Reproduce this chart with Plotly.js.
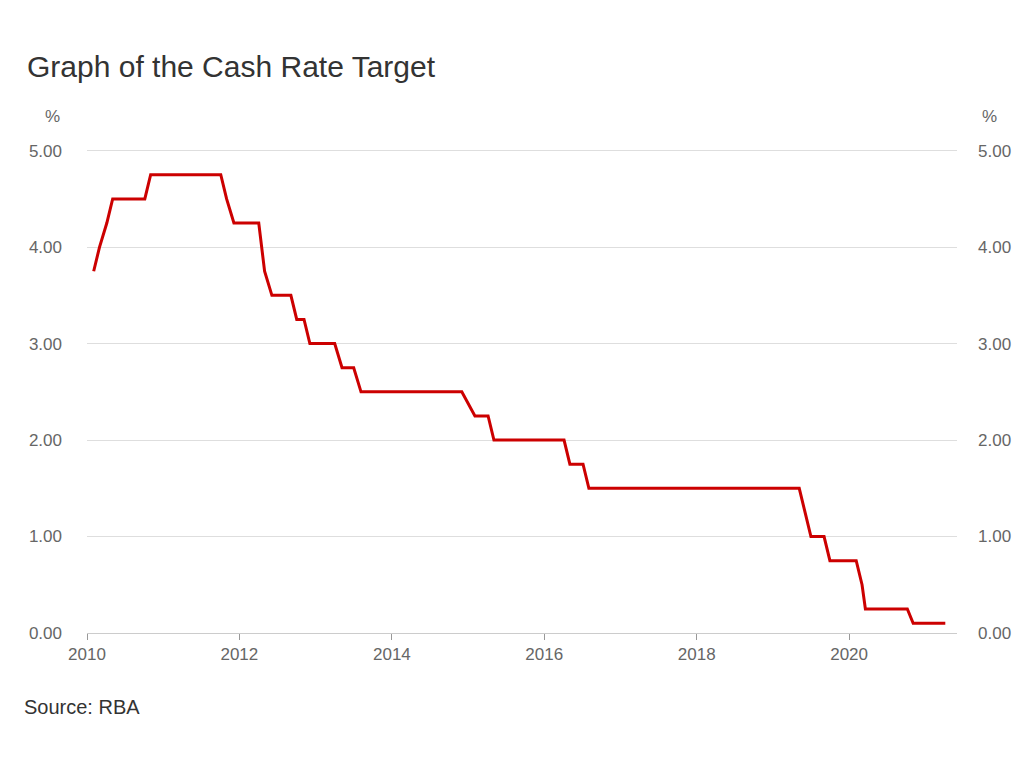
<!DOCTYPE html>
<html>
<head>
<meta charset="utf-8">
<script src="https://cdn.plot.ly/plotly-3.0.1.min.js"></script>
<style>
  html, body { margin: 0; padding: 0; background: #fff; }
  #chart { width: 1024px; height: 768px; }
</style>
</head>
<body>
<div id="chart"></div>
<script>
// RBA Board decision dates (no meeting in January; emergency meeting 19 Mar 2020)
const decisionDates = [
  "2010-02-02","2010-03-02","2010-04-06","2010-05-04","2010-06-01","2010-07-06","2010-08-03","2010-09-07","2010-10-05","2010-11-02","2010-12-07",
  "2011-02-01","2011-03-01","2011-04-05","2011-05-03","2011-06-07","2011-07-05","2011-08-02","2011-09-06","2011-10-04","2011-11-01","2011-12-06",
  "2012-02-07","2012-03-06","2012-04-03","2012-05-01","2012-06-05","2012-07-03","2012-08-07","2012-09-04","2012-10-02","2012-11-06","2012-12-04",
  "2013-02-05","2013-03-05","2013-04-02","2013-05-07","2013-06-04","2013-07-02","2013-08-06","2013-09-03","2013-10-01","2013-11-05","2013-12-03",
  "2014-02-04","2014-03-04","2014-04-01","2014-05-06","2014-06-03","2014-07-01","2014-08-05","2014-09-02","2014-10-07","2014-11-04","2014-12-02",
  "2015-02-03","2015-03-03","2015-04-07","2015-05-05","2015-06-02","2015-07-07","2015-08-04","2015-09-01","2015-10-06","2015-11-03","2015-12-01",
  "2016-02-02","2016-03-01","2016-04-05","2016-05-03","2016-06-07","2016-07-05","2016-08-02","2016-09-06","2016-10-04","2016-11-01","2016-12-06",
  "2017-02-07","2017-03-07","2017-04-04","2017-05-02","2017-06-06","2017-07-04","2017-08-01","2017-09-05","2017-10-03","2017-11-07","2017-12-05",
  "2018-02-06","2018-03-06","2018-04-03","2018-05-01","2018-06-05","2018-07-03","2018-08-07","2018-09-04","2018-10-02","2018-11-06","2018-12-04",
  "2019-02-05","2019-03-05","2019-04-02","2019-05-07","2019-06-04","2019-07-02","2019-08-06","2019-09-03","2019-10-01","2019-11-05","2019-12-03",
  "2020-02-04","2020-03-03","2020-03-19","2020-04-07","2020-05-05","2020-06-02","2020-07-07","2020-08-04","2020-09-01","2020-10-06","2020-11-03","2020-12-01",
  "2021-02-02","2021-03-02","2021-04-06"
];

// Cash rate target (%) after each decision
const cashRate = [
  3.75,4.00,4.25,4.50,4.50,4.50,4.50,4.50,4.50,4.75,4.75,
  4.75,4.75,4.75,4.75,4.75,4.75,4.75,4.75,4.75,4.50,4.25,
  4.25,4.25,4.25,3.75,3.50,3.50,3.50,3.50,3.25,3.25,3.00,
  3.00,3.00,3.00,2.75,2.75,2.75,2.50,2.50,2.50,2.50,2.50,
  2.50,2.50,2.50,2.50,2.50,2.50,2.50,2.50,2.50,2.50,2.50,
  2.25,2.25,2.25,2.00,2.00,2.00,2.00,2.00,2.00,2.00,2.00,
  2.00,2.00,2.00,1.75,1.75,1.75,1.50,1.50,1.50,1.50,1.50,
  1.50,1.50,1.50,1.50,1.50,1.50,1.50,1.50,1.50,1.50,1.50,
  1.50,1.50,1.50,1.50,1.50,1.50,1.50,1.50,1.50,1.50,1.50,
  1.50,1.50,1.50,1.50,1.25,1.00,1.00,1.00,0.75,0.75,0.75,
  0.75,0.50,0.25,0.25,0.25,0.25,0.25,0.25,0.25,0.25,0.10,0.10,
  0.10,0.10,0.10
];

const yTickVals = [0, 1, 2, 3, 4, 5];
const yTickText = ["0.00", "1.00", "2.00", "3.00", "4.00", "5.00"];
const xTickVals = ["2010-01-01","2012-01-01","2014-01-01","2016-01-01","2018-01-01","2020-01-01"];
const xTickText = ["2010","2012","2014","2016","2018","2020"];

const FONT = "Liberation Sans, Arial, sans-serif";

const traces = [
  {
    x: decisionDates,
    y: cashRate,
    type: "scatter",
    mode: "lines",
    line: { color: "#cc0000", width: 3 },
    hoverinfo: "x+y",
    showlegend: false
  },
  {
    // same series on the right-hand axis (invisible) so that axis is drawn
    x: decisionDates,
    y: cashRate,
    type: "scatter",
    mode: "lines",
    yaxis: "y2",
    line: { color: "rgba(0,0,0,0)", width: 0 },
    hoverinfo: "skip",
    showlegend: false
  }
];

const yRange = [0, 5.1];
const TICKSIZE = 17;

const layout = {
  width: 1024,
  height: 768,
  paper_bgcolor: "#ffffff",
  plot_bgcolor: "#ffffff",
  font: { family: FONT, color: "#666666", size: TICKSIZE },
  margin: { l: 87, r: 67, t: 141, b: 135 },
  showlegend: false,
  title: {
    text: "Graph of the Cash Rate Target",
    font: { family: FONT, size: 30, color: "#333333" },
    xref: "container", yref: "container",
    x: 27 / 1024, xanchor: "left",
    y: 1 - 66 / 768, yanchor: "middle"
  },
  xaxis: {
    type: "date",
    range: ["2010-01-01", "2021-06-01"],
    tickmode: "array",
    tickvals: xTickVals,
    ticktext: xTickText,
    showgrid: false,
    zeroline: false,
    showline: true,
    linecolor: "#cccccc",
    linewidth: 1,
    ticks: "outside",
    ticklen: 6,
    tickcolor: "#999999",
    tickfont: { family: FONT, size: TICKSIZE, color: "#666666" }
  },
  yaxis: {
    range: yRange,
    tickmode: "array",
    tickvals: yTickVals,
    ticktext: yTickText,
    showgrid: true,
    gridcolor: "#dedede",
    gridwidth: 1,
    zeroline: false,
    showline: false,
    ticks: "",
    ticklabelstandoff: 24,
    tickfont: { family: FONT, size: TICKSIZE, color: "#666666" }
  },
  yaxis2: {
    range: yRange,
    overlaying: "y",
    side: "right",
    anchor: "x",
    tickmode: "array",
    tickvals: yTickVals,
    ticktext: yTickText,
    showgrid: false,
    zeroline: false,
    showline: false,
    ticks: "",
    ticklabelstandoff: 20,
    tickfont: { family: FONT, size: TICKSIZE, color: "#666666" }
  },
  annotations: [
    { text: "%", xref: "paper", yref: "paper", x: 0, y: 1, xanchor: "center", yanchor: "middle",
      showarrow: false, font: { family: FONT, size: TICKSIZE, color: "#666666" } },
    { text: "%", xref: "paper", yref: "paper", x: 1, y: 1, xanchor: "center", yanchor: "middle",
      showarrow: false, font: { family: FONT, size: TICKSIZE, color: "#666666" } },
    { text: "Source: RBA", xref: "paper", yref: "paper", x: 0, y: 0, xanchor: "left", yanchor: "middle",
      showarrow: false, font: { family: FONT, size: 20, color: "#333333" } }
  ]
};

// Place the annotations in pixel terms
(function () {
  const plotW = 1024 - layout.margin.l - layout.margin.r;
  const plotH = 768 - layout.margin.t - layout.margin.b;
  const toPX = px => (px - layout.margin.l) / plotW;
  const toPY = py => (768 - layout.margin.b - py) / plotH;
  layout.annotations[0].x = toPX(52);  layout.annotations[0].y = toPY(116);
  layout.annotations[1].x = toPX(989); layout.annotations[1].y = toPY(116);
  layout.annotations[2].x = toPX(22);  layout.annotations[2].y = toPY(707);
})();

Plotly.newPlot("chart", traces, layout, { staticPlot: true, displayModeBar: false });
</script>
</body>
</html>
